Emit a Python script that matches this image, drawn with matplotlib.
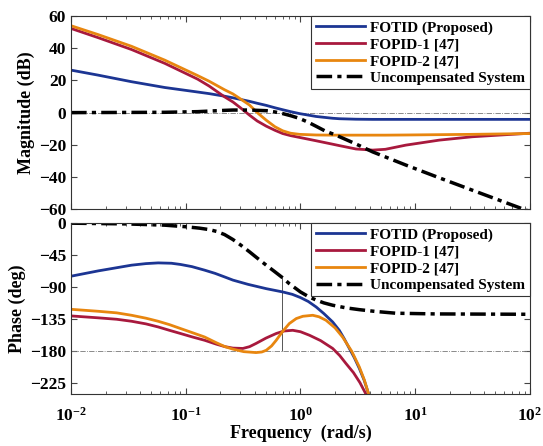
"""
plot.py - Bode plot comparison of FOTID vs FOPID controllers.
"""
import math

import matplotlib
matplotlib.use("Agg")
import matplotlib.pyplot as plt
from matplotlib.ticker import LogLocator, FuncFormatter, NullFormatter

plt.rcParams["font.family"] = "Liberation Serif"
plt.rcParams["font.weight"] = "bold"
plt.rcParams["mathtext.fontset"] = "custom"
plt.rcParams["mathtext.rm"] = "Liberation Serif:bold"
plt.rcParams["mathtext.bf"] = "Liberation Serif:bold"

# ── data ──────────────────────────────────────────────────────────────────────
LABELS = ["FOTID (Proposed)", "FOPID-1 [47]", "FOPID-2 [47]", "Uncompensated System"]
COLORS = ["#1c3593", "#a8193d", "#e8860f", "black"]

w_mag = [0.01, 0.0172, 0.0337, 0.0657, 0.127, 0.16, 0.218, 0.258, 0.3, 0.36,
         0.42, 0.503, 0.6, 0.70, 0.82, 0.98, 1.37, 1.9, 2.18, 3.05, 4.26, 5.5,
         8.3, 16.2, 31.5, 100]
mag_fotid = [26.4, 23.3, 19.2, 15.6, 12.8, 11.8, 10.2, 9.2, 8.2, 7.0,
             5.8, 4.5, 3.0, 1.8, 0.6, -0.6, -2.4, -3.5, -3.8, -4.1, -4.2, -4.2,
             -4.2, -4.2, -4.2, -4.2]
mag_fopid1 = [52.3, 46.6, 39.2, 30.6, 20.8, 16.5, 9.8, 6.6, 3.0, -1.6,
              -5.2, -8.4, -11.0, -13.0, -14.3, -15.4, -17.5, -19.6, -20.5, -22.6, -23.3, -22.8,
              -20.2, -17.1, -15.0, -12.8]
mag_fopid2 = [54.0, 48.5, 41.2, 32.6, 23.0, 19.5, 14.2, 11.6, 8.5, 4.7,
              0.0, -4.7, -8.8, -11.3, -12.8, -13.5, -13.9, -14.0, -14.0, -14.0, -14.0, -14.0,
              -13.9, -13.7, -13.5, -13.0]
w_unc_mag = [0.01, 0.0657, 0.127, 0.218, 0.258, 0.36, 0.503, 0.60, 0.70, 0.83,
             0.98, 1.17, 1.37, 1.65, 2.04, 3.05, 4.26, 8.3, 16.2, 31.5, 100]
mag_unc = [0.0, 0.2, 0.6, 1.4, 1.6, 1.6, 1.2, 0.4, -0.6, -2.0,
           -3.6, -6.0, -8.5, -11.5, -14.0, -19.5, -24.4, -32.6, -40.5, -48.2, -61.5]

w_ph_fotid = [0.01, 0.0173, 0.0337, 0.045, 0.0575, 0.075, 0.09, 0.113, 0.146, 0.18,
              0.218, 0.258, 0.35, 0.503, 0.70, 0.85, 1.0, 1.17, 1.37, 1.6,
              1.91, 2.18, 2.4, 2.67, 2.95, 3.26, 3.6, 3.93]
ph_fotid = [-74.5, -67, -59, -56.8, -55.8, -56.3, -58, -61, -66, -70.5,
            -75.5, -80, -86, -92, -96.6, -100, -104.5, -110, -117.7, -127,
            -138.8, -150.5, -162, -176, -189, -204, -221, -240]
w_ph_fopid1 = [0.01, 0.0173, 0.025, 0.0337, 0.045, 0.0575, 0.072, 0.09, 0.115, 0.146,
               0.185, 0.22, 0.258, 0.315, 0.36, 0.41, 0.5, 0.615, 0.72, 0.857,
               1.0, 1.2, 1.5, 1.91, 2.2, 2.49, 2.9, 3.3, 3.72]
ph_fopid1 = [-130.3, -133, -135, -137.8, -141.5, -145.8, -150.5, -155, -160, -164.5,
             -170, -173.5, -175.5, -176, -173.5, -169, -161.5, -155, -151.5, -150.5,
             -152.5, -157.5, -165, -176, -186, -197, -210, -224, -240]
w_ph_fopid2 = [0.01, 0.0173, 0.025, 0.0337, 0.045, 0.0575, 0.072, 0.09, 0.115, 0.146,
               0.185, 0.22, 0.258, 0.32, 0.41, 0.46, 0.503, 0.56, 0.615, 0.7,
               0.8, 0.92, 1.05, 1.28, 1.45, 1.67, 2.0, 2.33, 2.8, 3.26, 3.6, 3.93]
ph_fopid2 = [-121, -123.8, -126, -129.4, -133.5, -137.8, -142.5, -148, -154, -159.9,
             -168, -173.5, -177, -180.5, -181.8, -181, -178.6, -172.5, -164.5, -152,
             -141, -134, -130.8, -129.4, -131.5, -136.4, -147, -160, -180, -202, -220, -240]
w_ph_unc = [0.01, 0.03, 0.0657, 0.1, 0.132, 0.16, 0.185, 0.218, 0.258, 0.3,
            0.36, 0.42, 0.503, 0.59, 0.684, 0.8, 1.0, 1.17, 1.37, 1.6,
            1.91, 2.5, 3.26, 4.5, 6.76, 15, 100]
ph_unc = [0, -1, -2.8, -5, -7, -9, -11.5, -16, -23, -30.5,
          -40.3, -49, -59, -67.5, -75.5, -85, -96.6, -103, -108, -112,
          -115.3, -119, -121.5, -124, -126.5, -127.5, -128]

# crossover marker of the uncompensated system
w_gc = 0.684
ph_gc = -75.5

MAG_TICKS = [-60, -40, -20, 0, 20, 40, 60]
PH_TICKS = [-225, -180, -135, -90, -45, 0]


def style_axis(ax):
    ax.set_xscale("log")
    ax.set_xlim(1e-2, 1e2)
    ax.xaxis.set_major_locator(LogLocator(base=10, numticks=10))
    ax.xaxis.set_minor_locator(LogLocator(base=10, subs=range(2, 10), numticks=10))
    ax.xaxis.set_minor_formatter(NullFormatter())
    ax.tick_params(which="both", direction="in", top=True, right=True,
                   colors="#444444", labelcolor="black", labelsize=12.5)
    ax.tick_params(which="major", length=4)
    ax.tick_params(which="minor", length=2)
    for spine in ax.spines.values():
        spine.set_linewidth(0.8)
        spine.set_color("#333333")


def legend(ax):
    leg = ax.legend(loc="upper right", borderaxespad=0, fancybox=False,
                    edgecolor="#333333", framealpha=1, fontsize=11,
                    handlelength=3.2, handletextpad=0.35, labelspacing=0.2,
                    borderpad=0.3)
    leg.get_frame().set_linewidth(0.8)


fig = plt.figure(figsize=(5.43, 4.46), dpi=100)
ax1 = fig.add_axes([0.1308, 0.531, 0.845, 0.433])
ax2 = fig.add_axes([0.1308, 0.1166, 0.845, 0.383])

dash = (0, (4.5, 1.5, 1.2, 1.5))

# ── magnitude ─────────────────────────────────────────────────────────────────
ax1.axhline(0, color="#777777", lw=0.6, ls="-.")
for m, c, lab in [(mag_fotid, COLORS[0], LABELS[0]),
                  (mag_fopid1, COLORS[1], LABELS[1]),
                  (mag_fopid2, COLORS[2], LABELS[2])]:
    ax1.plot(w_mag, m, color=c, lw=2, label=lab)
ax1.plot(w_unc_mag, mag_unc, color=COLORS[3], lw=2.5, ls=dash, label=LABELS[3])
style_axis(ax1)
ax1.set_ylim(-60, 60)
ax1.set_yticks(MAG_TICKS)
ax1.xaxis.set_major_formatter(NullFormatter())
ax1.set_ylabel("Magnitude (dB)", fontsize=13, fontweight="bold", labelpad=3)
legend(ax1)

# ── phase ─────────────────────────────────────────────────────────────────────
ax2.axhline(-180, color="#777777", lw=0.6, ls="-.")
ax2.vlines(w_gc, -180, ph_gc, color="#555555", lw=0.7)
for w, p, c, lab in [(w_ph_fotid, ph_fotid, COLORS[0], LABELS[0]),
                     (w_ph_fopid1, ph_fopid1, COLORS[1], LABELS[1]),
                     (w_ph_fopid2, ph_fopid2, COLORS[2], LABELS[2])]:
    ax2.plot(w, p, color=c, lw=2, label=lab)
ax2.plot(w_ph_unc, ph_unc, color=COLORS[3], lw=2.5, ls=dash, label=LABELS[3])
style_axis(ax2)
ax2.set_ylim(-240, 0)
ax2.set_yticks(PH_TICKS)
ax2.xaxis.set_major_formatter(
    FuncFormatter(lambda v, _: r"$\mathbf{10^{%d}}$" % round(math.log10(v))))
ax2.tick_params(axis="x", pad=9)
ax2.set_ylabel("Phase (deg)", fontsize=13, fontweight="bold", labelpad=3)
ax2.set_xlabel("Frequency  (rad/s)", fontsize=13, fontweight="bold", labelpad=0)
legend(ax2)

fig.savefig("out.png", dpi=100)
plt.close(fig)
